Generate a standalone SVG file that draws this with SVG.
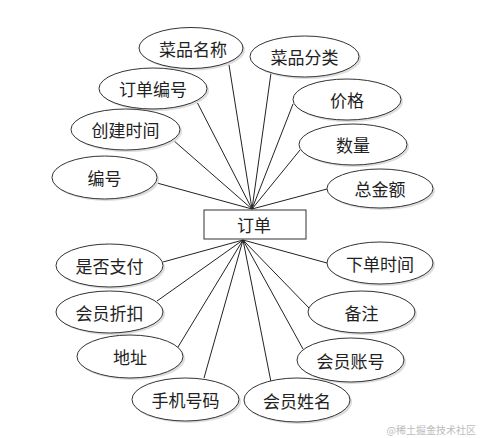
<svg xmlns="http://www.w3.org/2000/svg" width="480" height="438" viewBox="0 0 480 438">
<style>
.e{fill:#fff;stroke:#333;stroke-width:1}
.sh{fill:#ddd;stroke:none}
.t{font-family:"Noto Sans CJK SC","Liberation Sans",sans-serif;font-size:17px;fill:#222;text-anchor:middle;dominant-baseline:central}
.c line{stroke:#222;stroke-width:1}
.wm{font-family:"Noto Sans CJK SC",sans-serif;font-size:10px;fill:#bbb;text-anchor:end}
</style>
<rect width="480" height="438" fill="#fff"/>
<g class="c" id="connectors">
<line x1="229" y1="65" x2="252" y2="209"/>
<line x1="271" y1="73" x2="252" y2="209"/>
<line x1="293" y1="104" x2="252" y2="209"/>
<line x1="300" y1="150" x2="252" y2="209"/>
<line x1="327" y1="189" x2="252" y2="209"/>
<line x1="197" y1="102" x2="252" y2="209"/>
<line x1="173" y1="140" x2="252" y2="209"/>
<line x1="157" y1="183" x2="252" y2="209"/>
<line x1="163" y1="262" x2="243" y2="240"/>
<line x1="157" y1="301" x2="243" y2="240"/>
<line x1="178" y1="347" x2="243" y2="240"/>
<line x1="204" y1="378" x2="243" y2="240"/>
<line x1="327" y1="263" x2="243" y2="240"/>
<line x1="309" y1="308" x2="243" y2="240"/>
<line x1="303" y1="349" x2="243" y2="240"/>
<line x1="271" y1="382" x2="243" y2="240"/>
</g>
<g id="order">
<rect x="204" y="210" width="102" height="29" fill="#fff" stroke="#333"/>
<text class="t" x="254" y="224">订单</text>
</g>
<g id="n1"><ellipse class="sh" cx="193" cy="50" rx="52" ry="20.5"/><ellipse class="e" cx="191" cy="48" rx="52" ry="20.5"/><text class="t" x="193" y="48">菜品名称</text></g>
<g id="n2"><ellipse class="sh" cx="306.5" cy="58.5" rx="54.5" ry="20.5"/><ellipse class="e" cx="304.5" cy="56.5" rx="54.5" ry="20.5"/><text class="t" x="304.5" y="56.5">菜品分类</text></g>
<g id="n3"><ellipse class="sh" cx="349" cy="101.5" rx="54" ry="20.5"/><ellipse class="e" cx="347" cy="99.5" rx="54" ry="20.5"/><text class="t" x="347" y="99.5">价格</text></g>
<g id="n4"><ellipse class="sh" cx="355" cy="146.5" rx="54" ry="20.5"/><ellipse class="e" cx="353" cy="144.5" rx="54" ry="20.5"/><text class="t" x="353" y="144.5">数量</text></g>
<g id="n5"><ellipse class="sh" cx="382" cy="190.5" rx="53" ry="19.5"/><ellipse class="e" cx="380" cy="188.5" rx="53" ry="19.5"/><text class="t" x="380" y="188.5">总金额</text></g>
<g id="n6"><ellipse class="sh" cx="155" cy="90.5" rx="54" ry="20.5"/><ellipse class="e" cx="153" cy="88.5" rx="54" ry="20.5"/><text class="t" x="153" y="88.5">订单编号</text></g>
<g id="n7"><ellipse class="sh" cx="127.5" cy="131.5" rx="54.5" ry="20.5"/><ellipse class="e" cx="125.5" cy="129.5" rx="54.5" ry="20.5"/><text class="t" x="125.5" y="129.5">创建时间</text></g>
<g id="n8"><ellipse class="sh" cx="106.5" cy="179.5" rx="52.5" ry="21.5"/><ellipse class="e" cx="104.5" cy="177.5" rx="52.5" ry="21.5"/><text class="t" x="104.5" y="177.5">编号</text></g>
<g id="n9"><ellipse class="sh" cx="111.5" cy="267.5" rx="53.5" ry="21.5"/><ellipse class="e" cx="109.5" cy="265.5" rx="53.5" ry="21.5"/><text class="t" x="109.5" y="265.5">是否支付</text></g>
<g id="n10"><ellipse class="sh" cx="111.5" cy="314" rx="53.5" ry="21"/><ellipse class="e" cx="109.5" cy="312" rx="53.5" ry="21"/><text class="t" x="109.5" y="312">会员折扣</text></g>
<g id="n11"><ellipse class="sh" cx="132" cy="358.5" rx="53" ry="21.5"/><ellipse class="e" cx="130" cy="356.5" rx="53" ry="21.5"/><text class="t" x="130" y="356.5">地址</text></g>
<g id="n12"><ellipse class="sh" cx="187.5" cy="401.5" rx="53.5" ry="21.5"/><ellipse class="e" cx="185.5" cy="399.5" rx="53.5" ry="21.5"/><text class="t" x="185.5" y="399.5">手机号码</text></g>
<g id="n13"><ellipse class="sh" cx="382" cy="265" rx="53" ry="21"/><ellipse class="e" cx="380" cy="263" rx="53" ry="21"/><text class="t" x="380" y="263">下单时间</text></g>
<g id="n14"><ellipse class="sh" cx="363.5" cy="314" rx="53.5" ry="21"/><ellipse class="e" cx="361.5" cy="312" rx="53.5" ry="21"/><text class="t" x="361.5" y="312">备注</text></g>
<g id="n15"><ellipse class="sh" cx="352.5" cy="362" rx="53.5" ry="22"/><ellipse class="e" cx="350.5" cy="360" rx="53.5" ry="22"/><text class="t" x="350.5" y="360">会员账号</text></g>
<g id="n16"><ellipse class="sh" cx="299" cy="402" rx="53" ry="22"/><ellipse class="e" cx="297" cy="400" rx="53" ry="22"/><text class="t" x="297" y="400">会员姓名</text></g>
<text class="wm" x="476" y="434">@稀土掘金技术社区</text>
</svg>
